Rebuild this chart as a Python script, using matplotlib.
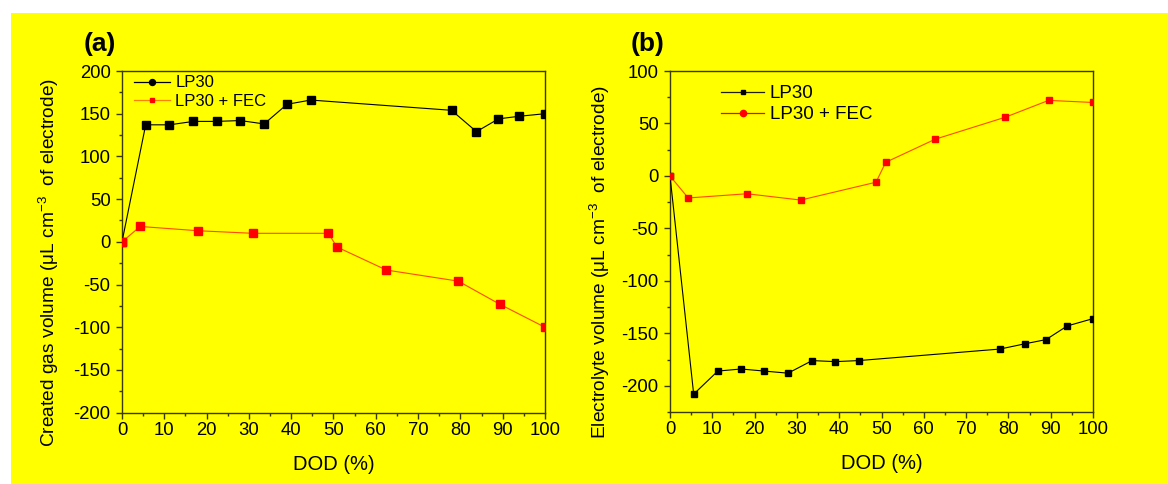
import matplotlib
matplotlib.use("Agg")
import matplotlib.pyplot as plt
from matplotlib.lines import Line2D
from matplotlib.patches import Rectangle
from matplotlib.ticker import MultipleLocator

plt.rcParams['font.family'] = ['Liberation Sans', 'DejaVu Sans']
plt.rcParams['axes.unicode_minus'] = False
plt.rcParams['mathtext.fontset'] = 'custom'
plt.rcParams['mathtext.rm'] = 'Liberation Sans'
plt.rcParams['mathtext.it'] = 'Liberation Sans:italic'
plt.rcParams['mathtext.default'] = 'regular'

# ---- data: panel (a) created gas volume ----
dod_lp30_a = [0, 5.6, 11.2, 16.9, 22.4, 28.0, 33.6, 39.0, 44.6, 77.9, 83.8, 89.0, 93.9, 100]
gas_lp30_a = [0, 137, 137, 141, 141, 142, 138, 161, 166, 154, 129, 144, 147, 150]
dod_fec_a = [0, 4.3, 18.0, 30.9, 48.8, 50.8, 62.5, 79.5, 89.3, 100]
gas_fec_a = [0, 18, 13, 10, 10, -6, -33, -46, -73, -100]

# ---- data: panel (b) electrolyte volume ----
dod_lp30_b = [0, 5.6, 11.3, 16.8, 22.3, 27.9, 33.6, 39.1, 44.6, 78.0, 83.9, 88.9, 93.9, 100]
vol_lp30_b = [0, -208, -186, -184, -186, -188, -176, -177, -176, -165, -160, -156, -143, -136]
dod_fec_b = [0, 4.3, 18.2, 30.9, 48.7, 51.0, 62.7, 79.3, 89.5, 100]
vol_fec_b = [0, -21, -17, -23, -6, 13, 35, 56, 72, 70]

series_names = ["LP30", "LP30 + FEC"]
panel_labels = ["(a)", "(b)"]
x_label = "DOD (%)"
y_labels = [r"Created gas volume ($\mu$L cm$^{-3}$  of electrode)",
            r"Electrolyte volume ($\mu$L cm$^{-3}$  of electrode)"]

YEL = '#ffff00'
SPINE = '#3a3a00'
LINE_FEC = '#ff4a00'

fig = plt.figure(figsize=(11.68, 4.84), dpi=100, facecolor='white')
fig.patches.append(Rectangle((11 / 1168, 0), 1 - 11 / 1168, (484 - 13) / 484,
                             transform=fig.transFigure, facecolor=YEL,
                             edgecolor='none', zorder=-10))

axA = fig.add_axes([122 / 1168, (484 - 412.7) / 484, 423 / 1168, 341.7 / 484])
axB = fig.add_axes([670 / 1168, (484 - 412) / 484, 423 / 1168, 341 / 484])

for ax in (axA, axB):
    ax.set_facecolor(YEL)
    for s in ax.spines.values():
        s.set_color(SPINE)
        s.set_linewidth(1.0)
    ax.set_xlim(0, 100)
    ax.xaxis.set_major_locator(MultipleLocator(10))
    ax.xaxis.set_minor_locator(MultipleLocator(5))
    ax.yaxis.set_major_locator(MultipleLocator(50))
    ax.yaxis.set_minor_locator(MultipleLocator(25))
    ax.tick_params(which='both', direction='out', colors=SPINE, labelcolor='black',
                   top=False, right=False, labelsize=13.3, width=1.0)
    ax.tick_params(which='major', length=4)
    ax.tick_params(which='minor', length=2.3)
    ax.tick_params(axis='x', which='major', pad=2.5)
    ax.tick_params(axis='y', which='major', pad=4.2)

# panel (a)
axA.set_ylim(-200, 200)
axA.plot(dod_lp30_a, gas_lp30_a, color='black', lw=0.8, marker='s', ms=5.3,
         mfc='black', mec='black', zorder=3)
axA.plot(dod_fec_a, gas_fec_a, color=LINE_FEC, lw=0.8, marker='s', ms=5.3,
         mfc='#ff0000', mec='#ff0000', zorder=3)

# panel (b)
axB.set_ylim(-225, 100)
axB.plot(dod_lp30_b, vol_lp30_b, color='black', lw=0.8, marker='s', ms=3.9,
         mfc='black', mec='black', zorder=3)
axB.plot(dod_fec_b, vol_fec_b, color=LINE_FEC, lw=0.8, marker='s', ms=4.3,
         mfc='#ff0000', mec='#ff0000', zorder=3)

for ax, yl, pl in ((axA, y_labels[0], panel_labels[0]), (axB, y_labels[1], panel_labels[1])):
    ax.set_xlabel(x_label, fontsize=14.5, va='center')
    ax.xaxis.set_label_coords(0.5, -0.152)
    ax.set_ylabel(yl, fontsize=13.8, va='center')
    ax.text(-0.053, 1.08, pl, transform=ax.transAxes, fontsize=19,
            fontweight='bold', ha='center', va='center')

axA.yaxis.set_label_coords(-0.173, 0.44)
axB.yaxis.set_label_coords(-0.165, 0.44)

# legends (markers in legend differ from data markers, as in the original)
hA = [Line2D([], [], color='black', lw=0.9, marker='o', ms=4.3, mfc='black', mec='black'),
      Line2D([], [], color='#ff8000', lw=0.9, marker='s', ms=3.4, mfc='#ff0000', mec='#ff0000')]
axA.legend(hA, series_names, loc='upper left', bbox_to_anchor=(0.02, 0.997),
           frameon=False, fontsize=12, handlelength=2.2, handletextpad=0.3,
           labelspacing=0.2, borderpad=0.2, borderaxespad=0)

hB = [Line2D([], [], color='#202000', lw=0.9, marker='s', ms=3.3, mfc='black', mec='black'),
      Line2D([], [], color='#ff0000', lw=0.9, marker='o', ms=4.5, mfc='#ff0000', mec='#ff0000')]
axB.legend(hB, series_names, loc='upper left', bbox_to_anchor=(0.112, 0.97),
           frameon=False, fontsize=13.5, handlelength=2.3, handletextpad=0.3,
           labelspacing=0.22, borderpad=0.2, borderaxespad=0)

fig.savefig('out.png', dpi=100, facecolor=fig.get_facecolor())
